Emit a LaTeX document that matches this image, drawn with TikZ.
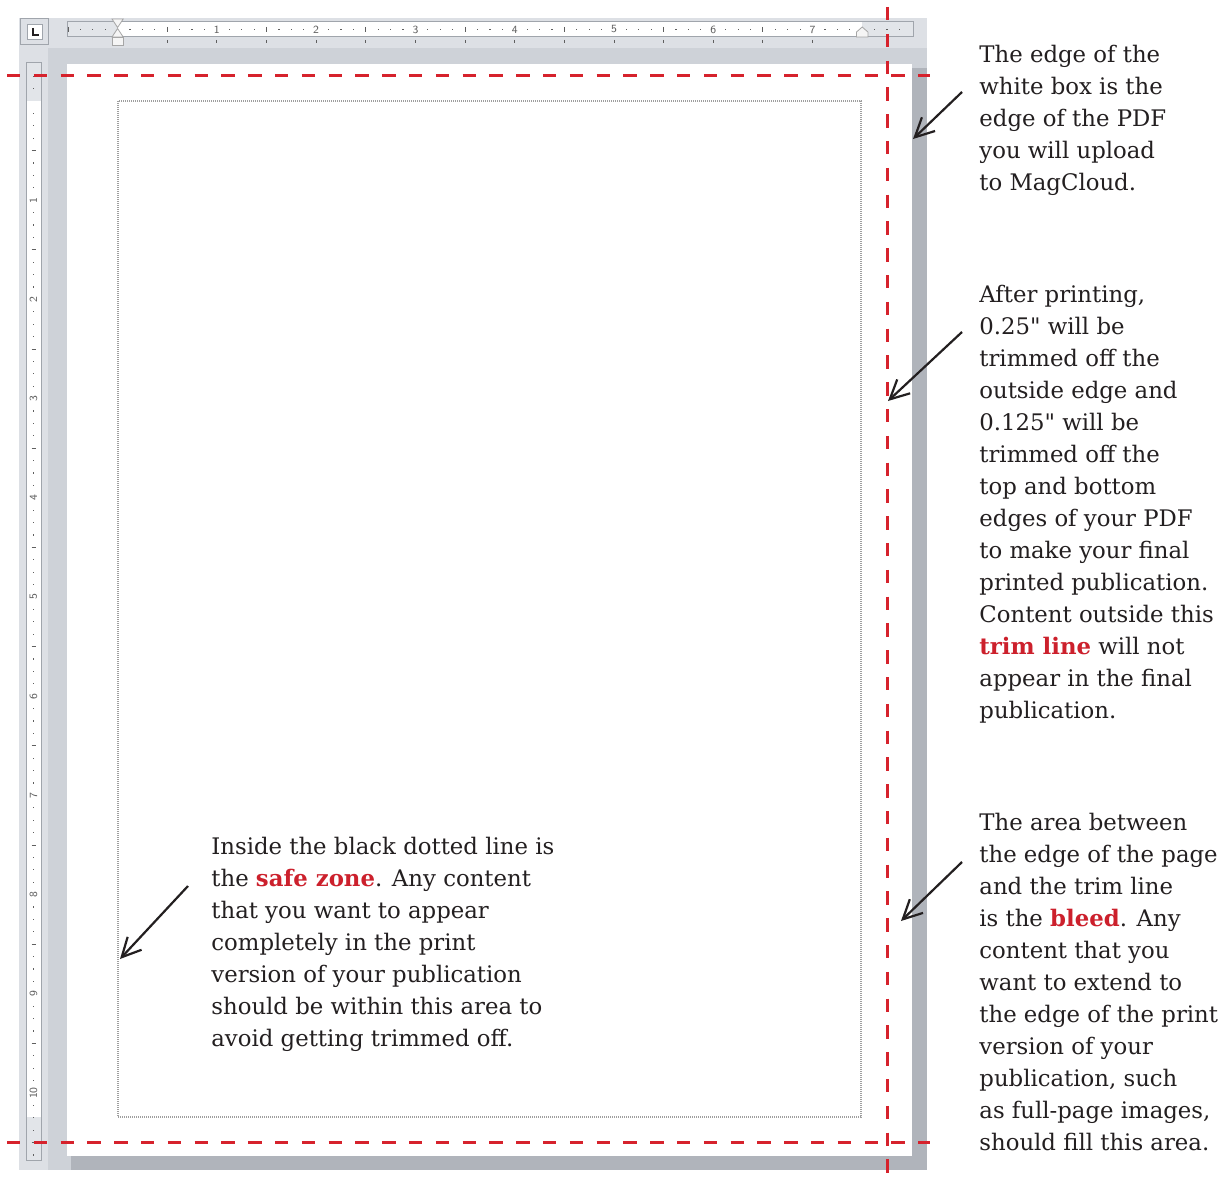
\documentclass[tikz,border=0pt]{standalone}
\usepackage{fontspec}
\setmainfont{DejaVu Serif}[Ligatures=TeXOff]
\usetikzlibrary{arrows.meta,calc}

\definecolor{trimred}{RGB}{214,34,44}
\definecolor{keyred}{RGB}{204,32,44}
\definecolor{ink}{RGB}{35,31,32}
\definecolor{wingray}{RGB}{206,210,216}
\definecolor{winlight}{RGB}{221,224,229}
\definecolor{shadowgray}{RGB}{176,180,187}
\definecolor{rulerline}{RGB}{160,165,172}
\definecolor{rulermargin}{RGB}{226,229,233}
\definecolor{rulertext}{RGB}{95,95,95}

\newcommand{\keyterm}[1]{\textcolor{keyred}{\textbf{#1}}}

\begin{document}
\begin{tikzpicture}[x=0.5pt, y=-0.5pt,
  trim/.style={trimred, line width=1.5pt, dash pattern=on 6.7pt off 6.7pt},
  safe/.style={draw=gray!75, line width=0.7pt, dash pattern=on 0.5pt off 0.5pt},
  note/.style={anchor=base west, align=left, inner sep=0pt, text=ink,
               font=\fontsize{11.4}{16}\selectfont},
  arr/.style={-{Straight Barb[length=9.5pt, width=9.5pt]}, line width=1.1pt, ink},
  rulerbar/.style={fill=rulermargin, draw=rulerline, line width=0.5pt},
  rulernum/.style={font=\sffamily\fontsize{5.5}{6}\selectfont, text=rulertext, inner sep=0pt},
  rulertick/.style={rulertext, line width=0.45pt},
  marker/.style={fill=gray!8, draw=gray!70, line width=0.4pt}
]
\useasboundingbox (0,0) rectangle (1226,1177);
\fill[white] (0,0) rectangle (1226,1177);

% word window
\fill[wingray] (19,18) rectangle (927,1170);
\fill[winlight] (19,18) rectangle (927,48);
\fill[winlight] (19,48) rectangle (48,1170);
\fill[shadowgray] (912,68) rectangle (927,1170);
\fill[shadowgray] (71,1156) rectangle (927,1170);
\fill[white] (67,64) rectangle (912,1156);

% tab selector
\draw[fill=winlight, draw=rulerline, line width=0.5pt] (20,19) rectangle (48,45);
\draw[fill=white, draw=rulerline, line width=0.4pt] (27,24) rectangle (42,39);
\draw[ink, line width=1pt] (33,28) -- (33,35) -- (38.5,35);

% horizontal ruler
\draw[rulerbar] (67,22) rectangle (913,37);
\fill[white] (118,22.5) rectangle (862,36.5);
\foreach \k in {-4,...,63} {
  \pgfmathsetmacro{\rx}{117.6+12.41*\k}
  \pgfmathtruncatemacro{\eighth}{mod(\k+8,8)}
  \pgfmathtruncatemacro{\inch}{\k/8}
  \ifnum\eighth=0
    \ifnum\k>0 \node[rulernum] at (\rx,29.5) {\inch}; \fi
  \else
    \ifnum\eighth=4
      \draw[rulertick] (\rx,27) -- (\rx,32);
    \else
      \fill[rulertext] (\rx-0.6,28.9) rectangle (\rx+0.6,30.1);
    \fi
  \fi
}
% default tab stops
\foreach \k in {4,8,...,56}
  \draw[rulertick] (117.6+12.41*\k,40) -- (117.6+12.41*\k,43.5);
% indent markers
\draw[marker] (112,19) -- (123.2,19) -- (117.6,27.5) -- cycle;
\draw[marker] (117.6,28.5) -- (123.2,37) -- (112,37) -- cycle;
\draw[marker] (112,37.5) rectangle (123.2,45);
\draw[marker] (856.5,37) -- (856.5,32) -- (862.2,27) -- (867.9,32) -- (867.9,37) -- cycle;

% vertical ruler
\draw[rulerbar] (26,63) rectangle (41,1160);
\fill[white] (26.5,101) rectangle (40.5,1117);
\foreach \k in {-2,...,85} {
  \pgfmathsetmacro{\ry}{101+12.4*\k}
  \pgfmathtruncatemacro{\eighth}{mod(\k+8,8)}
  \pgfmathtruncatemacro{\inch}{\k/8}
  \ifnum\eighth=0
    \ifnum\k>0 \node[rulernum, rotate=90] at (33.5,\ry) {\inch}; \fi
  \else
    \ifnum\eighth=4
      \draw[rulertick] (31.5,\ry) -- (36,\ry);
    \else
      \fill[rulertext] (32.9,\ry-0.6) rectangle (34.1,\ry+0.6);
    \fi
  \fi
}

% safe zone
\draw[safe] (118,101) rectangle (861,1117);

% trim lines
\draw[trim] (7,76) -- (930,76);
\draw[trim] (7,1142) -- (930,1142);
\draw[trim] (887,7) -- (887,1177);

% notes (base = last line)
\node[note] (noteEdge) at (979,190.5) {The edge of the\\white box is the\\edge of the PDF\\you will upload\\to MagCloud.};
\node[note] (noteTrim) at (979,718.5) {After printing,\\0.25" will be\\trimmed off the\\outside edge and\\0.125" will be\\trimmed off the\\top and bottom\\edges of your PDF\\to make your final\\printed publication.\\Content outside this\\\keyterm{trim line} will not\\appear in the final\\publication.};
\node[note] (noteBleed) at (979,1150.5) {The area between\\the edge of the page\\and the trim line\\is the \keyterm{bleed}. Any\\content that you\\want to extend to\\the edge of the print\\version of your\\publication, such\\as full-page images,\\should fill this area.};
\node[note] (noteSafe) at (211,1046.5) {Inside the black dotted line is\\the \keyterm{safe zone}. Any content\\that you want to appear\\completely in the print\\version of your publication\\should be within this area to\\avoid getting trimmed off.};

% arrow ends
\coordinate (edgeTail) at (962,92);
\coordinate (edgeTip) at (913,139);
\coordinate (trimTail) at (962,332);
\coordinate (trimTip) at (888,401);
\coordinate (bleedTail) at (962,862);
\coordinate (bleedTip) at (901,921);
\coordinate (safeTail) at (188,886);
\coordinate (safeTip) at (120,959);

\draw[arr] (edgeTail) -- (edgeTip);
\draw[arr] (trimTail) -- (trimTip);
\draw[arr] (bleedTail) -- (bleedTip);
\draw[arr] (safeTail) -- (safeTip);
\end{tikzpicture}
\end{document}
